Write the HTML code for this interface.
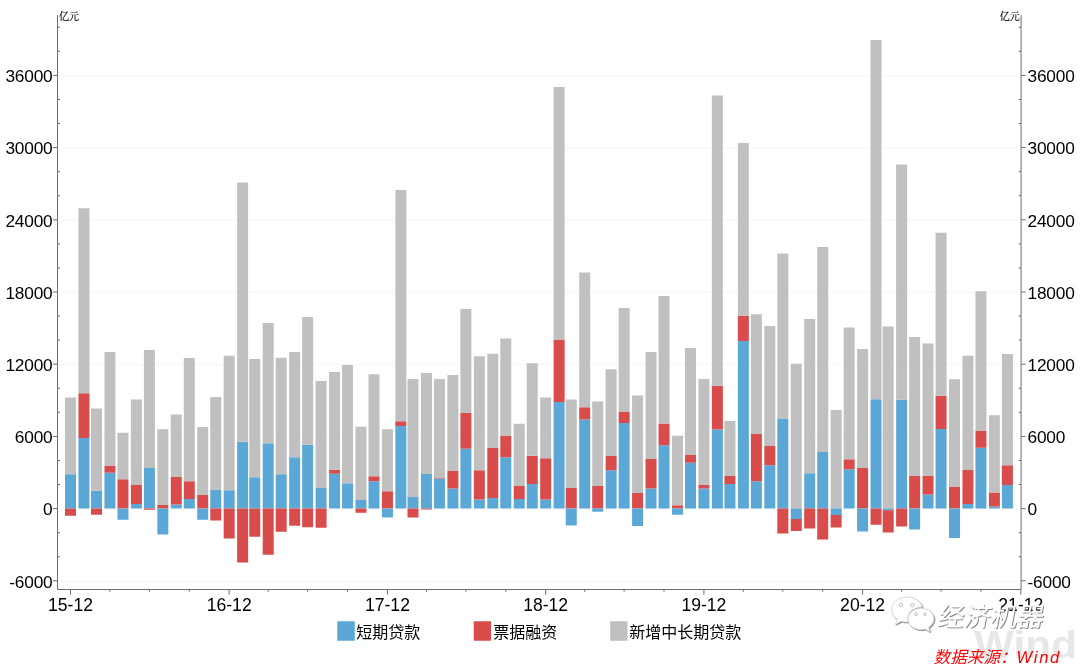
<!DOCTYPE html>
<html lang="zh"><head><meta charset="utf-8"><title>chart</title>
<style>
html,body{margin:0;padding:0;background:#fff;}
body{width:1080px;height:664px;overflow:hidden;position:relative;font-family:"Liberation Sans","Noto Sans CJK SC",sans-serif;}
svg{position:absolute;left:0;top:0;display:block}
.ax{stroke:#6e6e6e;stroke-width:1}
.lb{font-family:"Liberation Sans","Noto Sans CJK SC",sans-serif;font-size:17.6px;fill:#000}
.yl{letter-spacing:-0.2px;font-size:17.3px}
.unit{font-family:"Liberation Serif","Noto Serif CJK SC",serif;font-size:10px;fill:#000;stroke:#000;stroke-width:0.15px}
.lg{font-family:"Liberation Sans","Noto Sans CJK SC",sans-serif;font-size:16px;fill:#000}
.wm{font-family:"Liberation Sans","Noto Sans CJK SC",sans-serif;font-size:26px;fill:#fff}
.wind{font-family:"Liberation Sans",sans-serif;font-weight:bold;font-size:38px;fill:#e7e7e7}
.src{font-family:"Liberation Sans","Noto Sans CJK SC",sans-serif;font-style:italic;font-size:16.6px;fill:#f00}
</style></head><body>
<svg width="1080" height="664" viewBox="0 0 1080 664">
<defs>
<filter id="sh" x="-20%" y="-20%" width="140%" height="140%"><feDropShadow dx="0.8" dy="0.8" stdDeviation="0.5" flood-color="#555" flood-opacity="0.9"/></filter>
</defs>
<rect x="0" y="0" width="1080" height="664" fill="#fff"/>
<g id="grid">
<line x1="57.5" y1="581.20" x2="1021.1" y2="581.20" stroke="#f5f5f5" stroke-width="1"/>
<line x1="57.5" y1="509.00" x2="1021.1" y2="509.00" stroke="#f5f5f5" stroke-width="1"/>
<line x1="57.5" y1="436.80" x2="1021.1" y2="436.80" stroke="#f5f5f5" stroke-width="1"/>
<line x1="57.5" y1="364.60" x2="1021.1" y2="364.60" stroke="#f5f5f5" stroke-width="1"/>
<line x1="57.5" y1="292.40" x2="1021.1" y2="292.40" stroke="#f5f5f5" stroke-width="1"/>
<line x1="57.5" y1="220.20" x2="1021.1" y2="220.20" stroke="#f5f5f5" stroke-width="1"/>
<line x1="57.5" y1="148.00" x2="1021.1" y2="148.00" stroke="#f5f5f5" stroke-width="1"/>
<line x1="57.5" y1="75.80" x2="1021.1" y2="75.80" stroke="#f5f5f5" stroke-width="1"/>
</g>
<g id="bars">
<rect x="65.00" y="474.25" width="11.00" height="34.25" fill="#5ba8d6"/>
<rect x="65.00" y="397.50" width="11.00" height="76.75" fill="#c0c0c0"/>
<rect x="65.00" y="508.50" width="11.00" height="7.25" fill="#d94c4c"/>
<rect x="78.44" y="438.00" width="11.00" height="70.50" fill="#5ba8d6"/>
<rect x="78.44" y="393.25" width="11.00" height="44.75" fill="#d94c4c"/>
<rect x="78.44" y="208.25" width="11.00" height="185.00" fill="#c0c0c0"/>
<rect x="91.01" y="490.75" width="11.00" height="17.75" fill="#5ba8d6"/>
<rect x="91.01" y="408.50" width="11.00" height="82.25" fill="#c0c0c0"/>
<rect x="91.01" y="508.50" width="11.00" height="6.25" fill="#d94c4c"/>
<rect x="104.45" y="472.75" width="11.00" height="35.75" fill="#5ba8d6"/>
<rect x="104.45" y="466.00" width="11.00" height="6.75" fill="#d94c4c"/>
<rect x="104.45" y="352.00" width="11.00" height="114.00" fill="#c0c0c0"/>
<rect x="117.46" y="479.25" width="11.00" height="29.25" fill="#d94c4c"/>
<rect x="117.46" y="432.75" width="11.00" height="46.50" fill="#c0c0c0"/>
<rect x="117.46" y="508.50" width="11.00" height="11.25" fill="#5ba8d6"/>
<rect x="130.90" y="504.00" width="11.00" height="4.50" fill="#5ba8d6"/>
<rect x="130.90" y="485.00" width="11.00" height="19.00" fill="#d94c4c"/>
<rect x="130.90" y="399.50" width="11.00" height="85.50" fill="#c0c0c0"/>
<rect x="143.91" y="468.00" width="11.00" height="40.50" fill="#5ba8d6"/>
<rect x="143.91" y="350.00" width="11.00" height="118.00" fill="#c0c0c0"/>
<rect x="143.91" y="508.50" width="11.00" height="1.25" fill="#d94c4c"/>
<rect x="157.35" y="505.00" width="11.00" height="3.50" fill="#d94c4c"/>
<rect x="157.35" y="429.25" width="11.00" height="75.75" fill="#c0c0c0"/>
<rect x="157.35" y="508.50" width="11.00" height="26.00" fill="#5ba8d6"/>
<rect x="170.79" y="504.50" width="11.00" height="4.00" fill="#5ba8d6"/>
<rect x="170.79" y="477.00" width="11.00" height="27.50" fill="#d94c4c"/>
<rect x="170.79" y="414.50" width="11.00" height="62.50" fill="#c0c0c0"/>
<rect x="183.79" y="499.00" width="11.00" height="9.50" fill="#5ba8d6"/>
<rect x="183.79" y="481.25" width="11.00" height="17.75" fill="#d94c4c"/>
<rect x="183.79" y="358.00" width="11.00" height="123.25" fill="#c0c0c0"/>
<rect x="197.23" y="495.00" width="11.00" height="13.50" fill="#d94c4c"/>
<rect x="197.23" y="427.00" width="11.00" height="68.00" fill="#c0c0c0"/>
<rect x="197.23" y="508.50" width="11.00" height="11.25" fill="#5ba8d6"/>
<rect x="210.24" y="490.00" width="11.00" height="18.50" fill="#5ba8d6"/>
<rect x="210.24" y="397.00" width="11.00" height="93.00" fill="#c0c0c0"/>
<rect x="210.24" y="508.50" width="11.00" height="12.00" fill="#d94c4c"/>
<rect x="223.68" y="490.25" width="11.00" height="18.25" fill="#5ba8d6"/>
<rect x="223.68" y="355.75" width="11.00" height="134.50" fill="#c0c0c0"/>
<rect x="223.68" y="508.50" width="11.00" height="30.00" fill="#d94c4c"/>
<rect x="237.12" y="441.75" width="11.00" height="66.75" fill="#5ba8d6"/>
<rect x="237.12" y="182.50" width="11.00" height="259.25" fill="#c0c0c0"/>
<rect x="237.12" y="508.50" width="11.00" height="54.00" fill="#d94c4c"/>
<rect x="249.26" y="477.25" width="11.00" height="31.25" fill="#5ba8d6"/>
<rect x="249.26" y="359.00" width="11.00" height="118.25" fill="#c0c0c0"/>
<rect x="249.26" y="508.50" width="11.00" height="28.25" fill="#d94c4c"/>
<rect x="262.70" y="443.25" width="11.00" height="65.25" fill="#5ba8d6"/>
<rect x="262.70" y="323.00" width="11.00" height="120.25" fill="#c0c0c0"/>
<rect x="262.70" y="508.50" width="11.00" height="46.25" fill="#d94c4c"/>
<rect x="275.71" y="474.25" width="11.00" height="34.25" fill="#5ba8d6"/>
<rect x="275.71" y="357.75" width="11.00" height="116.50" fill="#c0c0c0"/>
<rect x="275.71" y="508.50" width="11.00" height="23.25" fill="#d94c4c"/>
<rect x="289.15" y="457.25" width="11.00" height="51.25" fill="#5ba8d6"/>
<rect x="289.15" y="352.00" width="11.00" height="105.25" fill="#c0c0c0"/>
<rect x="289.15" y="508.50" width="11.00" height="17.25" fill="#d94c4c"/>
<rect x="302.15" y="444.75" width="11.00" height="63.75" fill="#5ba8d6"/>
<rect x="302.15" y="317.00" width="11.00" height="127.75" fill="#c0c0c0"/>
<rect x="302.15" y="508.50" width="11.00" height="18.75" fill="#d94c4c"/>
<rect x="315.59" y="488.00" width="11.00" height="20.50" fill="#5ba8d6"/>
<rect x="315.59" y="381.00" width="11.00" height="107.00" fill="#c0c0c0"/>
<rect x="315.59" y="508.50" width="11.00" height="19.25" fill="#d94c4c"/>
<rect x="329.03" y="473.75" width="11.00" height="34.75" fill="#5ba8d6"/>
<rect x="329.03" y="469.75" width="11.00" height="4.00" fill="#d94c4c"/>
<rect x="329.03" y="372.00" width="11.00" height="97.75" fill="#c0c0c0"/>
<rect x="342.04" y="483.25" width="11.00" height="25.25" fill="#5ba8d6"/>
<rect x="342.04" y="365.00" width="11.00" height="118.25" fill="#c0c0c0"/>
<rect x="355.48" y="500.00" width="11.00" height="8.50" fill="#5ba8d6"/>
<rect x="355.48" y="426.75" width="11.00" height="73.25" fill="#c0c0c0"/>
<rect x="355.48" y="508.50" width="11.00" height="4.25" fill="#d94c4c"/>
<rect x="368.49" y="481.25" width="11.00" height="27.25" fill="#5ba8d6"/>
<rect x="368.49" y="476.25" width="11.00" height="5.00" fill="#d94c4c"/>
<rect x="368.49" y="374.25" width="11.00" height="102.00" fill="#c0c0c0"/>
<rect x="381.93" y="491.25" width="11.00" height="17.25" fill="#d94c4c"/>
<rect x="381.93" y="429.25" width="11.00" height="62.00" fill="#c0c0c0"/>
<rect x="381.93" y="508.50" width="11.00" height="9.00" fill="#5ba8d6"/>
<rect x="395.37" y="426.00" width="11.00" height="82.50" fill="#5ba8d6"/>
<rect x="395.37" y="421.25" width="11.00" height="4.75" fill="#d94c4c"/>
<rect x="395.37" y="190.00" width="11.00" height="231.25" fill="#c0c0c0"/>
<rect x="407.50" y="497.00" width="11.00" height="11.50" fill="#5ba8d6"/>
<rect x="407.50" y="379.00" width="11.00" height="118.00" fill="#c0c0c0"/>
<rect x="407.50" y="508.50" width="11.00" height="9.00" fill="#d94c4c"/>
<rect x="420.94" y="474.00" width="11.00" height="34.50" fill="#5ba8d6"/>
<rect x="420.94" y="373.00" width="11.00" height="101.00" fill="#c0c0c0"/>
<rect x="420.94" y="508.50" width="11.00" height="1.00" fill="#d94c4c"/>
<rect x="433.95" y="478.50" width="11.00" height="30.00" fill="#5ba8d6"/>
<rect x="433.95" y="477.50" width="11.00" height="1.00" fill="#d94c4c"/>
<rect x="433.95" y="379.00" width="11.00" height="98.50" fill="#c0c0c0"/>
<rect x="447.39" y="488.50" width="11.00" height="20.00" fill="#5ba8d6"/>
<rect x="447.39" y="471.00" width="11.00" height="17.50" fill="#d94c4c"/>
<rect x="447.39" y="375.00" width="11.00" height="96.00" fill="#c0c0c0"/>
<rect x="460.40" y="448.75" width="11.00" height="59.75" fill="#5ba8d6"/>
<rect x="460.40" y="413.00" width="11.00" height="35.75" fill="#d94c4c"/>
<rect x="460.40" y="309.00" width="11.00" height="104.00" fill="#c0c0c0"/>
<rect x="473.84" y="499.50" width="11.00" height="9.00" fill="#5ba8d6"/>
<rect x="473.84" y="470.25" width="11.00" height="29.25" fill="#d94c4c"/>
<rect x="473.84" y="356.25" width="11.00" height="114.00" fill="#c0c0c0"/>
<rect x="487.28" y="498.00" width="11.00" height="10.50" fill="#5ba8d6"/>
<rect x="487.28" y="448.00" width="11.00" height="50.00" fill="#d94c4c"/>
<rect x="487.28" y="353.75" width="11.00" height="94.25" fill="#c0c0c0"/>
<rect x="500.28" y="457.25" width="11.00" height="51.25" fill="#5ba8d6"/>
<rect x="500.28" y="436.00" width="11.00" height="21.25" fill="#d94c4c"/>
<rect x="500.28" y="338.50" width="11.00" height="97.50" fill="#c0c0c0"/>
<rect x="513.72" y="499.00" width="11.00" height="9.50" fill="#5ba8d6"/>
<rect x="513.72" y="486.00" width="11.00" height="13.00" fill="#d94c4c"/>
<rect x="513.72" y="423.75" width="11.00" height="62.25" fill="#c0c0c0"/>
<rect x="526.73" y="484.00" width="11.00" height="24.50" fill="#5ba8d6"/>
<rect x="526.73" y="455.75" width="11.00" height="28.25" fill="#d94c4c"/>
<rect x="526.73" y="363.25" width="11.00" height="92.50" fill="#c0c0c0"/>
<rect x="540.17" y="499.50" width="11.00" height="9.00" fill="#5ba8d6"/>
<rect x="540.17" y="458.25" width="11.00" height="41.25" fill="#d94c4c"/>
<rect x="540.17" y="397.50" width="11.00" height="60.75" fill="#c0c0c0"/>
<rect x="553.61" y="402.00" width="11.00" height="106.50" fill="#5ba8d6"/>
<rect x="553.61" y="339.50" width="11.00" height="62.50" fill="#d94c4c"/>
<rect x="553.61" y="87.00" width="11.00" height="252.50" fill="#c0c0c0"/>
<rect x="565.75" y="488.00" width="11.00" height="20.50" fill="#d94c4c"/>
<rect x="565.75" y="399.50" width="11.00" height="88.50" fill="#c0c0c0"/>
<rect x="565.75" y="508.50" width="11.00" height="17.00" fill="#5ba8d6"/>
<rect x="579.19" y="419.50" width="11.00" height="89.00" fill="#5ba8d6"/>
<rect x="579.19" y="407.25" width="11.00" height="12.25" fill="#d94c4c"/>
<rect x="579.19" y="272.50" width="11.00" height="134.75" fill="#c0c0c0"/>
<rect x="592.20" y="486.00" width="11.00" height="22.50" fill="#d94c4c"/>
<rect x="592.20" y="401.50" width="11.00" height="84.50" fill="#c0c0c0"/>
<rect x="592.20" y="508.50" width="11.00" height="3.25" fill="#5ba8d6"/>
<rect x="605.64" y="470.25" width="11.00" height="38.25" fill="#5ba8d6"/>
<rect x="605.64" y="456.00" width="11.00" height="14.25" fill="#d94c4c"/>
<rect x="605.64" y="369.25" width="11.00" height="86.75" fill="#c0c0c0"/>
<rect x="618.64" y="423.00" width="11.00" height="85.50" fill="#5ba8d6"/>
<rect x="618.64" y="411.50" width="11.00" height="11.50" fill="#d94c4c"/>
<rect x="618.64" y="308.00" width="11.00" height="103.50" fill="#c0c0c0"/>
<rect x="632.08" y="493.00" width="11.00" height="15.50" fill="#d94c4c"/>
<rect x="632.08" y="395.50" width="11.00" height="97.50" fill="#c0c0c0"/>
<rect x="632.08" y="508.50" width="11.00" height="17.50" fill="#5ba8d6"/>
<rect x="645.52" y="488.50" width="11.00" height="20.00" fill="#5ba8d6"/>
<rect x="645.52" y="459.00" width="11.00" height="29.50" fill="#d94c4c"/>
<rect x="645.52" y="352.00" width="11.00" height="107.00" fill="#c0c0c0"/>
<rect x="658.53" y="445.25" width="11.00" height="63.25" fill="#5ba8d6"/>
<rect x="658.53" y="423.50" width="11.00" height="21.75" fill="#d94c4c"/>
<rect x="658.53" y="296.00" width="11.00" height="127.50" fill="#c0c0c0"/>
<rect x="671.97" y="505.25" width="11.00" height="3.25" fill="#d94c4c"/>
<rect x="671.97" y="435.75" width="11.00" height="69.50" fill="#c0c0c0"/>
<rect x="671.97" y="508.50" width="11.00" height="6.25" fill="#5ba8d6"/>
<rect x="684.98" y="462.75" width="11.00" height="45.75" fill="#5ba8d6"/>
<rect x="684.98" y="455.00" width="11.00" height="7.75" fill="#d94c4c"/>
<rect x="684.98" y="348.00" width="11.00" height="107.00" fill="#c0c0c0"/>
<rect x="698.42" y="488.50" width="11.00" height="20.00" fill="#5ba8d6"/>
<rect x="698.42" y="485.00" width="11.00" height="3.50" fill="#d94c4c"/>
<rect x="698.42" y="379.00" width="11.00" height="106.00" fill="#c0c0c0"/>
<rect x="711.86" y="429.50" width="11.00" height="79.00" fill="#5ba8d6"/>
<rect x="711.86" y="385.75" width="11.00" height="43.75" fill="#d94c4c"/>
<rect x="711.86" y="95.50" width="11.00" height="290.25" fill="#c0c0c0"/>
<rect x="724.43" y="484.00" width="11.00" height="24.50" fill="#5ba8d6"/>
<rect x="724.43" y="476.00" width="11.00" height="8.00" fill="#d94c4c"/>
<rect x="724.43" y="421.00" width="11.00" height="55.00" fill="#c0c0c0"/>
<rect x="737.87" y="341.00" width="11.00" height="167.50" fill="#5ba8d6"/>
<rect x="737.87" y="315.75" width="11.00" height="25.25" fill="#d94c4c"/>
<rect x="737.87" y="143.00" width="11.00" height="172.75" fill="#c0c0c0"/>
<rect x="750.88" y="481.25" width="11.00" height="27.25" fill="#5ba8d6"/>
<rect x="750.88" y="434.00" width="11.00" height="47.25" fill="#d94c4c"/>
<rect x="750.88" y="314.25" width="11.00" height="119.75" fill="#c0c0c0"/>
<rect x="764.32" y="465.25" width="11.00" height="43.25" fill="#5ba8d6"/>
<rect x="764.32" y="446.00" width="11.00" height="19.25" fill="#d94c4c"/>
<rect x="764.32" y="326.00" width="11.00" height="120.00" fill="#c0c0c0"/>
<rect x="777.32" y="418.50" width="11.00" height="90.00" fill="#5ba8d6"/>
<rect x="777.32" y="253.50" width="11.00" height="165.00" fill="#c0c0c0"/>
<rect x="777.32" y="508.50" width="11.00" height="25.00" fill="#d94c4c"/>
<rect x="790.76" y="363.75" width="11.00" height="144.75" fill="#c0c0c0"/>
<rect x="790.76" y="508.50" width="11.00" height="10.50" fill="#5ba8d6"/>
<rect x="790.76" y="519.00" width="11.00" height="12.00" fill="#d94c4c"/>
<rect x="804.20" y="473.25" width="11.00" height="35.25" fill="#5ba8d6"/>
<rect x="804.20" y="319.00" width="11.00" height="154.25" fill="#c0c0c0"/>
<rect x="804.20" y="508.50" width="11.00" height="20.00" fill="#d94c4c"/>
<rect x="817.21" y="452.00" width="11.00" height="56.50" fill="#5ba8d6"/>
<rect x="817.21" y="247.00" width="11.00" height="205.00" fill="#c0c0c0"/>
<rect x="817.21" y="508.50" width="11.00" height="31.00" fill="#d94c4c"/>
<rect x="830.65" y="410.00" width="11.00" height="98.50" fill="#c0c0c0"/>
<rect x="830.65" y="508.50" width="11.00" height="6.50" fill="#5ba8d6"/>
<rect x="830.65" y="515.00" width="11.00" height="12.50" fill="#d94c4c"/>
<rect x="843.66" y="469.25" width="11.00" height="39.25" fill="#5ba8d6"/>
<rect x="843.66" y="459.25" width="11.00" height="10.00" fill="#d94c4c"/>
<rect x="843.66" y="327.50" width="11.00" height="131.75" fill="#c0c0c0"/>
<rect x="857.10" y="468.00" width="11.00" height="40.50" fill="#d94c4c"/>
<rect x="857.10" y="349.00" width="11.00" height="119.00" fill="#c0c0c0"/>
<rect x="857.10" y="508.50" width="11.00" height="23.00" fill="#5ba8d6"/>
<rect x="870.54" y="399.25" width="11.00" height="109.25" fill="#5ba8d6"/>
<rect x="870.54" y="40.00" width="11.00" height="359.25" fill="#c0c0c0"/>
<rect x="870.54" y="508.50" width="11.00" height="16.25" fill="#d94c4c"/>
<rect x="882.68" y="326.50" width="11.00" height="182.00" fill="#c0c0c0"/>
<rect x="882.68" y="508.50" width="11.00" height="1.75" fill="#5ba8d6"/>
<rect x="882.68" y="510.25" width="11.00" height="22.25" fill="#d94c4c"/>
<rect x="896.12" y="399.75" width="11.00" height="108.75" fill="#5ba8d6"/>
<rect x="896.12" y="164.50" width="11.00" height="235.25" fill="#c0c0c0"/>
<rect x="896.12" y="508.50" width="11.00" height="18.00" fill="#d94c4c"/>
<rect x="909.12" y="476.00" width="11.00" height="32.50" fill="#d94c4c"/>
<rect x="909.12" y="337.00" width="11.00" height="139.00" fill="#c0c0c0"/>
<rect x="909.12" y="508.50" width="11.00" height="21.00" fill="#5ba8d6"/>
<rect x="922.56" y="494.50" width="11.00" height="14.00" fill="#5ba8d6"/>
<rect x="922.56" y="476.00" width="11.00" height="18.50" fill="#d94c4c"/>
<rect x="922.56" y="343.50" width="11.00" height="132.50" fill="#c0c0c0"/>
<rect x="935.57" y="429.00" width="11.00" height="79.50" fill="#5ba8d6"/>
<rect x="935.57" y="395.75" width="11.00" height="33.25" fill="#d94c4c"/>
<rect x="935.57" y="232.75" width="11.00" height="163.00" fill="#c0c0c0"/>
<rect x="949.01" y="487.00" width="11.00" height="21.50" fill="#d94c4c"/>
<rect x="949.01" y="379.25" width="11.00" height="107.75" fill="#c0c0c0"/>
<rect x="949.01" y="508.50" width="11.00" height="29.50" fill="#5ba8d6"/>
<rect x="962.45" y="504.00" width="11.00" height="4.50" fill="#5ba8d6"/>
<rect x="962.45" y="470.00" width="11.00" height="34.00" fill="#d94c4c"/>
<rect x="962.45" y="355.75" width="11.00" height="114.25" fill="#c0c0c0"/>
<rect x="975.45" y="447.75" width="11.00" height="60.75" fill="#5ba8d6"/>
<rect x="975.45" y="431.00" width="11.00" height="16.75" fill="#d94c4c"/>
<rect x="975.45" y="291.25" width="11.00" height="139.75" fill="#c0c0c0"/>
<rect x="988.90" y="506.50" width="11.00" height="2.00" fill="#5ba8d6"/>
<rect x="988.90" y="492.50" width="11.00" height="14.00" fill="#d94c4c"/>
<rect x="988.90" y="415.25" width="11.00" height="77.25" fill="#c0c0c0"/>
<rect x="1001.90" y="485.00" width="11.00" height="23.50" fill="#5ba8d6"/>
<rect x="1001.90" y="465.25" width="11.00" height="19.75" fill="#d94c4c"/>
<rect x="1001.90" y="354.00" width="11.00" height="111.25" fill="#c0c0c0"/>
</g>
<g id="axes">
<line x1="57.5" y1="15" x2="57.5" y2="589.5" class="ax"/>
<line x1="1021.1" y1="15" x2="1021.1" y2="589.5" class="ax"/>
<line x1="57.5" y1="589.5" x2="1021.1" y2="589.5" class="ax"/>
<line x1="53.0" y1="580.80" x2="57.5" y2="580.80" class="ax"/>
<line x1="1021.1" y1="580.80" x2="1025.6" y2="580.80" class="ax"/>
<line x1="57.5" y1="556.73" x2="60.0" y2="556.73" class="ax"/>
<line x1="1018.6" y1="556.73" x2="1021.1" y2="556.73" class="ax"/>
<line x1="57.5" y1="532.67" x2="60.0" y2="532.67" class="ax"/>
<line x1="1018.6" y1="532.67" x2="1021.1" y2="532.67" class="ax"/>
<line x1="53.0" y1="508.60" x2="57.5" y2="508.60" class="ax"/>
<line x1="1021.1" y1="508.60" x2="1025.6" y2="508.60" class="ax"/>
<line x1="57.5" y1="484.53" x2="60.0" y2="484.53" class="ax"/>
<line x1="1018.6" y1="484.53" x2="1021.1" y2="484.53" class="ax"/>
<line x1="57.5" y1="460.47" x2="60.0" y2="460.47" class="ax"/>
<line x1="1018.6" y1="460.47" x2="1021.1" y2="460.47" class="ax"/>
<line x1="53.0" y1="436.40" x2="57.5" y2="436.40" class="ax"/>
<line x1="1021.1" y1="436.40" x2="1025.6" y2="436.40" class="ax"/>
<line x1="57.5" y1="412.33" x2="60.0" y2="412.33" class="ax"/>
<line x1="1018.6" y1="412.33" x2="1021.1" y2="412.33" class="ax"/>
<line x1="57.5" y1="388.27" x2="60.0" y2="388.27" class="ax"/>
<line x1="1018.6" y1="388.27" x2="1021.1" y2="388.27" class="ax"/>
<line x1="53.0" y1="364.20" x2="57.5" y2="364.20" class="ax"/>
<line x1="1021.1" y1="364.20" x2="1025.6" y2="364.20" class="ax"/>
<line x1="57.5" y1="340.13" x2="60.0" y2="340.13" class="ax"/>
<line x1="1018.6" y1="340.13" x2="1021.1" y2="340.13" class="ax"/>
<line x1="57.5" y1="316.07" x2="60.0" y2="316.07" class="ax"/>
<line x1="1018.6" y1="316.07" x2="1021.1" y2="316.07" class="ax"/>
<line x1="53.0" y1="292.00" x2="57.5" y2="292.00" class="ax"/>
<line x1="1021.1" y1="292.00" x2="1025.6" y2="292.00" class="ax"/>
<line x1="57.5" y1="267.93" x2="60.0" y2="267.93" class="ax"/>
<line x1="1018.6" y1="267.93" x2="1021.1" y2="267.93" class="ax"/>
<line x1="57.5" y1="243.87" x2="60.0" y2="243.87" class="ax"/>
<line x1="1018.6" y1="243.87" x2="1021.1" y2="243.87" class="ax"/>
<line x1="53.0" y1="219.80" x2="57.5" y2="219.80" class="ax"/>
<line x1="1021.1" y1="219.80" x2="1025.6" y2="219.80" class="ax"/>
<line x1="57.5" y1="195.73" x2="60.0" y2="195.73" class="ax"/>
<line x1="1018.6" y1="195.73" x2="1021.1" y2="195.73" class="ax"/>
<line x1="57.5" y1="171.67" x2="60.0" y2="171.67" class="ax"/>
<line x1="1018.6" y1="171.67" x2="1021.1" y2="171.67" class="ax"/>
<line x1="53.0" y1="147.60" x2="57.5" y2="147.60" class="ax"/>
<line x1="1021.1" y1="147.60" x2="1025.6" y2="147.60" class="ax"/>
<line x1="57.5" y1="123.53" x2="60.0" y2="123.53" class="ax"/>
<line x1="1018.6" y1="123.53" x2="1021.1" y2="123.53" class="ax"/>
<line x1="57.5" y1="99.47" x2="60.0" y2="99.47" class="ax"/>
<line x1="1018.6" y1="99.47" x2="1021.1" y2="99.47" class="ax"/>
<line x1="53.0" y1="75.40" x2="57.5" y2="75.40" class="ax"/>
<line x1="1021.1" y1="75.40" x2="1025.6" y2="75.40" class="ax"/>
<line x1="57.5" y1="51.33" x2="60.0" y2="51.33" class="ax"/>
<line x1="1018.6" y1="51.33" x2="1021.1" y2="51.33" class="ax"/>
<line x1="57.5" y1="27.27" x2="60.0" y2="27.27" class="ax"/>
<line x1="1018.6" y1="27.27" x2="1021.1" y2="27.27" class="ax"/>
<line x1="70.50" y1="589.5" x2="70.50" y2="594.7" class="ax"/>
<line x1="109.95" y1="589.5" x2="109.95" y2="591.8" class="ax"/>
<line x1="149.41" y1="589.5" x2="149.41" y2="591.8" class="ax"/>
<line x1="189.29" y1="589.5" x2="189.29" y2="591.8" class="ax"/>
<line x1="229.18" y1="589.5" x2="229.18" y2="594.7" class="ax"/>
<line x1="268.20" y1="589.5" x2="268.20" y2="591.8" class="ax"/>
<line x1="307.65" y1="589.5" x2="307.65" y2="591.8" class="ax"/>
<line x1="347.54" y1="589.5" x2="347.54" y2="591.8" class="ax"/>
<line x1="387.43" y1="589.5" x2="387.43" y2="594.7" class="ax"/>
<line x1="426.44" y1="589.5" x2="426.44" y2="591.8" class="ax"/>
<line x1="465.90" y1="589.5" x2="465.90" y2="591.8" class="ax"/>
<line x1="505.78" y1="589.5" x2="505.78" y2="591.8" class="ax"/>
<line x1="545.67" y1="589.5" x2="545.67" y2="594.7" class="ax"/>
<line x1="584.69" y1="589.5" x2="584.69" y2="591.8" class="ax"/>
<line x1="624.14" y1="589.5" x2="624.14" y2="591.8" class="ax"/>
<line x1="664.03" y1="589.5" x2="664.03" y2="591.8" class="ax"/>
<line x1="703.92" y1="589.5" x2="703.92" y2="594.7" class="ax"/>
<line x1="743.37" y1="589.5" x2="743.37" y2="591.8" class="ax"/>
<line x1="782.82" y1="589.5" x2="782.82" y2="591.8" class="ax"/>
<line x1="822.71" y1="589.5" x2="822.71" y2="591.8" class="ax"/>
<line x1="862.60" y1="589.5" x2="862.60" y2="594.7" class="ax"/>
<line x1="901.62" y1="589.5" x2="901.62" y2="591.8" class="ax"/>
<line x1="941.07" y1="589.5" x2="941.07" y2="591.8" class="ax"/>
<line x1="980.95" y1="589.5" x2="980.95" y2="591.8" class="ax"/>
<line x1="1020.84" y1="589.5" x2="1020.84" y2="594.7" class="ax"/>
</g>
<g id="labels">
<text x="52.5" y="587.50" text-anchor="end" class="lb yl">-6000</text>
<text x="1027.5" y="587.50" text-anchor="start" class="lb yl">-6000</text>
<text x="52.5" y="515.30" text-anchor="end" class="lb yl">0</text>
<text x="1027.5" y="515.30" text-anchor="start" class="lb yl">0</text>
<text x="52.5" y="443.10" text-anchor="end" class="lb yl">6000</text>
<text x="1027.5" y="443.10" text-anchor="start" class="lb yl">6000</text>
<text x="52.5" y="370.90" text-anchor="end" class="lb yl">12000</text>
<text x="1027.5" y="370.90" text-anchor="start" class="lb yl">12000</text>
<text x="52.5" y="298.70" text-anchor="end" class="lb yl">18000</text>
<text x="1027.5" y="298.70" text-anchor="start" class="lb yl">18000</text>
<text x="52.5" y="226.50" text-anchor="end" class="lb yl">24000</text>
<text x="1027.5" y="226.50" text-anchor="start" class="lb yl">24000</text>
<text x="52.5" y="154.30" text-anchor="end" class="lb yl">30000</text>
<text x="1027.5" y="154.30" text-anchor="start" class="lb yl">30000</text>
<text x="52.5" y="82.10" text-anchor="end" class="lb yl">36000</text>
<text x="1027.5" y="82.10" text-anchor="start" class="lb yl">36000</text>
<text x="70.50" y="611" text-anchor="middle" class="lb">15-12</text>
<text x="229.18" y="611" text-anchor="middle" class="lb">16-12</text>
<text x="387.43" y="611" text-anchor="middle" class="lb">17-12</text>
<text x="545.67" y="611" text-anchor="middle" class="lb">18-12</text>
<text x="703.92" y="611" text-anchor="middle" class="lb">19-12</text>
<text x="862.60" y="611" text-anchor="middle" class="lb">20-12</text>
<text x="1020.84" y="611" text-anchor="middle" class="lb">21-12</text>
<text x="59" y="19.8" class="unit">亿元</text>
<text x="1019.8" y="19.8" text-anchor="end" class="unit">亿元</text>
</g>
<g id="legend">
<rect x="337.25" y="621.25" width="17.5" height="19.5" fill="#5ba8d6"/>
<text x="356.2" y="637.6" class="lg">短期贷款</text>
<rect x="473.75" y="621.25" width="17.25" height="19.5" fill="#d94c4c"/>
<text x="493.2" y="637.6" class="lg">票据融资</text>
<rect x="610.25" y="621.25" width="17.25" height="19.5" fill="#c0c0c0"/>
<text x="629.2" y="637.6" class="lg">新增中长期贷款</text>
</g>
<g id="windmark">
<text x="974" y="657.8" class="wind" textLength="103" lengthAdjust="spacingAndGlyphs">Wind</text>
</g>
<g id="wechat" filter="url(#sh)">
<path d="M906.7 597.2c-8.3 0-15 5.6-15 12.5 0 3.9 2.1 7.3 5.5 9.6l-1.6 5 5.8-3.1c1.7.5 3.4.9 5.3.9 .5 0 1 0 1.500-.1-.3-1.100-.5-2.200-.5-3.300 0-6.400 6-11.500 13.400-11.500 .400 0 .800 0 1.200.1-1.400-5.700-7.700-10.100-15.600-10.100z" fill="#fff" stroke="#cfcfcf" stroke-width="0.7"/>
<path d="M934 619c0-5.900-5.800-10.700-13-10.700s-13 4.800-13 10.700 5.800 10.700 13 10.700c1.500 0 3-.2 4.300-.6l4.700 2.600-1.300-4.200c3.200-2 5.300-5 5.300-8.500z" fill="#fff" stroke="#cfcfcf" stroke-width="0.7"/>
<circle cx="901" cy="605" r="1.7" fill="#fff" stroke="#999" stroke-width="0.6"/>
<circle cx="912.4" cy="605" r="1.7" fill="#fff" stroke="#999" stroke-width="0.6"/>
<circle cx="916" cy="614.2" r="1.4" fill="#fff" stroke="#999" stroke-width="0.6"/>
<circle cx="925" cy="614.2" r="1.4" fill="#fff" stroke="#999" stroke-width="0.6"/>
</g>
<g filter="url(#sh)">
<text transform="translate(936.5,625.6) skewX(-11)" x="0" y="0" class="wm" textLength="106" lengthAdjust="spacingAndGlyphs">经济机器</text>
</g>
<text x="933.6" y="662.8" class="src">数据来源：<tspan style="letter-spacing:1.7px">Wind</tspan></text>
</svg>
</body></html>
